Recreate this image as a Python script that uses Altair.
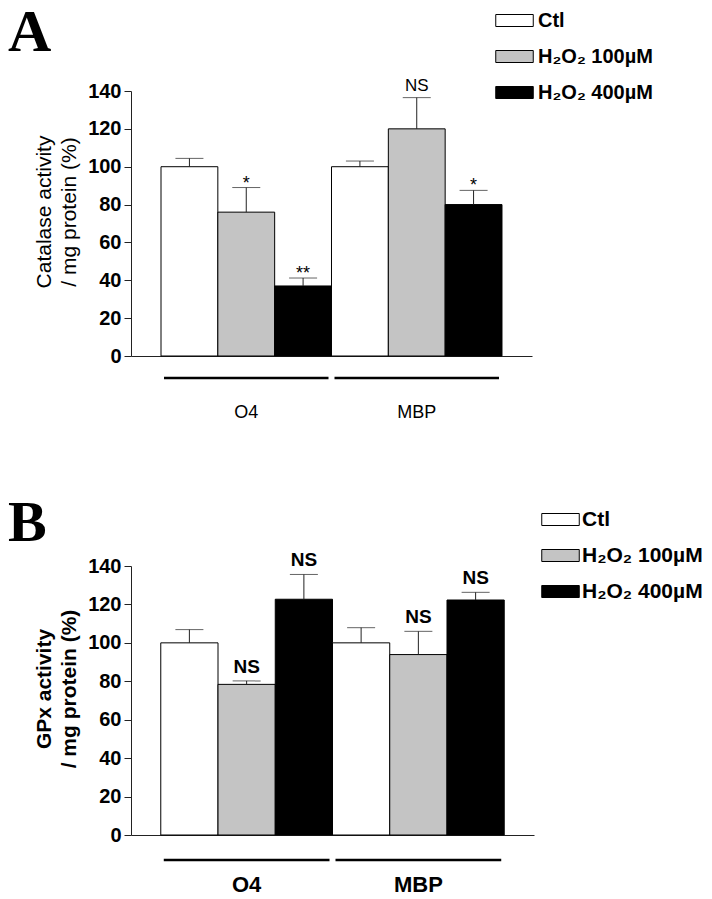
import altair as alt
import pandas as pd

# ---------------- data ----------------
groups = ["O4", "O4", "O4", "MBP", "MBP", "MBP"]
treatments = ["Ctl", "H₂O₂ 100µM", "H₂O₂ 400µM", "Ctl", "H₂O₂ 100µM", "H₂O₂ 400µM"]
treatment_order = ["Ctl", "H₂O₂ 100µM", "H₂O₂ 400µM"]
treatment_colors = ["#ffffff", "#c4c4c4", "#000000"]

catalase_values = [100, 76, 37, 100, 120, 80]
catalase_errors = [4.4, 13, 4.2, 3, 16.5, 7.5]
catalase_marks = ["", "*", "**", "", "NS", "*"]

gpx_values = [100, 78.4, 122.7, 100, 93.9, 122.3]
gpx_errors = [6.9, 1.8, 12.9, 7.9, 12.1, 4.0]
gpx_marks = ["", "NS", "NS", "", "NS", "NS"]

group_names = ["O4", "MBP"]
y_ticks = [0, 20, 40, 60, 80, 100, 120, 140]

SANS = "Liberation Sans"
SERIF = "Liberation Serif"
AX = "#222222"

bar_keys = [f"{g} | {t}" for g, t in zip(groups, treatments)]


def group_table():
    rows = []
    for g in group_names:
        ks = [k for k, gg in zip(bar_keys, groups) if gg == g]
        rows.append({"group": g, "first": ks[0], "mid": ks[len(ks) // 2], "last": ks[-1]})
    return pd.DataFrame(rows)


def panel(values, errors, marks, o):
    df = pd.DataFrame({
        "key": bar_keys,
        "group": groups,
        "treatment": treatments,
        "value": values,
        "top": [v + e for v, e in zip(values, errors)],
        "mark": marks,
    })
    W, H = o["width"], o["height"]
    xscale = alt.Scale(domain=bar_keys, paddingInner=0, paddingOuter=o["pad_outer"])
    yscale = alt.Scale(domain=[0, 140], nice=False)
    yaxis = alt.Axis(values=y_ticks, tickCount=8, grid=False, tickSize=7, tickColor=AX,
                     domainColor=AX, labelFont=SANS, labelFontSize=20,
                     labelFontWeight="bold", labelColor="black", labelPadding=3,
                     labelOverlap=False, labelFlush=False,
                     title=o["ytitle"], titleFont=SANS, titleFontSize=21,
                     titleFontWeight=o["title_weight"], titleColor="black",
                     titleLineHeight=25, titleX=o["title_x"],
                     titleY=H / 2 - 12)
    base = alt.Chart(df)

    bars = base.mark_bar(stroke="black", strokeWidth=1).encode(
        x=alt.X("key:N", scale=xscale, sort=bar_keys,
                axis=alt.Axis(labels=False, ticks=False, title=None, grid=False,
                              domainColor=AX, domainWidth=1)),
        y=alt.Y("value:Q", scale=yscale, axis=yaxis),
        fill=alt.Fill("treatment:N",
                      scale=alt.Scale(domain=treatment_order, range=treatment_colors),
                      legend=alt.Legend(orient="none", legendX=o["leg_x"], legendY=o["leg_y"],
                                        title=None, padding=0,
                                        symbolType="M-1.25,-0.4H1.25V0.4H-1.25Z",
                                        symbolSize=900, symbolStrokeColor="black",
                                        symbolStrokeWidth=1, labelFont=SANS,
                                        labelFontSize=o["leg_font"], labelFontWeight="bold",
                                        labelColor="black", labelOffset=o["leg_off"],
                                        rowPadding=o["leg_rowpad"])),
    )
    err = base.mark_rule(color=AX, strokeWidth=1).encode(
        x="key:N", y=alt.Y("value:Q", scale=yscale, axis=yaxis), y2="top:Q")
    cap = base.mark_tick(color=AX, thickness=1, size=28).encode(
        x="key:N", y=alt.Y("top:Q", scale=yscale, axis=yaxis))
    stars = base.transform_filter(alt.datum.mark != "NS").transform_filter(
        alt.datum.mark != "").mark_text(
        font=SANS, fontSize=18, color="black", baseline="alphabetic", dy=1).encode(
        x="key:N", y=alt.Y("top:Q", scale=yscale, axis=yaxis), text="mark:N")
    ns = base.transform_filter(alt.datum.mark == "NS").mark_text(
        font=SANS, fontSize=o["ns_font"], fontWeight=o["ns_weight"], color="black",
        baseline="alphabetic", dy=o["ns_dy"]).encode(
        x="key:N", y=alt.Y("top:Q", scale=yscale, axis=yaxis), text="mark:N")

    gdf = group_table()
    lines = alt.Chart(gdf).mark_rule(color="black", strokeWidth=2.5, xOffset=3, x2Offset=-3).encode(
        x=alt.X("first:N", bandPosition=0),
        x2=alt.X2("last:N", bandPosition=1),
        y=alt.value(H + o["line_dy"]),
    )
    glabels = alt.Chart(gdf).mark_text(
        font=SANS, fontSize=o["grp_font"], fontWeight=o["grp_weight"], color="black",
        baseline="middle").encode(
        x="mid:N", y=alt.value(H + o["grp_dy"]), text="group:N")
    letter = alt.Chart(pd.DataFrame({"letter": [o["letter"]]})).mark_text(
        font=SERIF, fontSize=o["letter_size"], fontWeight="bold", color="black",
        align="left", baseline="alphabetic").encode(
        x=alt.value(o["letter_x"]), y=alt.value(o["letter_y"]), text="letter:N")

    return alt.layer(bars, err, cap, stars, ns, lines, glabels, letter).properties(
        width=W, height=H)


panel_a = panel(catalase_values, catalase_errors, catalase_marks, dict(
    width=401, height=265, pad_outer=0.528,
    ytitle=["Catalase activity", "/ mg  protein (%)"], title_weight="normal", title_x=-77,
    leg_x=368, leg_y=-86, leg_font=20, leg_off=8, leg_rowpad=10,
    ns_font=17, ns_weight="normal", ns_dy=-7,
    line_dy=22, grp_font=18, grp_weight="normal", grp_dy=57,
    letter="A", letter_size=60, letter_x=-123, letter_y=-40,
))

panel_b = panel(gpx_values, gpx_errors, gpx_marks, dict(
    width=403, height=269, pad_outer=0.52,
    ytitle=["GPx activity", "/ mg protein (%)"], title_weight="bold", title_x=-77,
    leg_x=414, leg_y=-62, leg_font=21, leg_off=6, leg_rowpad=10,
    ns_font=19, ns_weight="bold", ns_dy=-8,
    line_dy=25, grp_font=22, grp_weight="bold", grp_dy=50,
    letter="B", letter_size=58, letter_x=-123, letter_y=-25,
))

chart = alt.vconcat(panel_a, panel_b, spacing=73).resolve_scale(
    fill="independent", x="independent", y="independent"
).resolve_legend(fill="independent").properties(
    padding={"left": 0, "top": -5, "right": 0, "bottom": 0}, background="white"
).configure_view(stroke=None)

chart.save("out.html", embed_options={"renderer": "svg", "actions": False})
